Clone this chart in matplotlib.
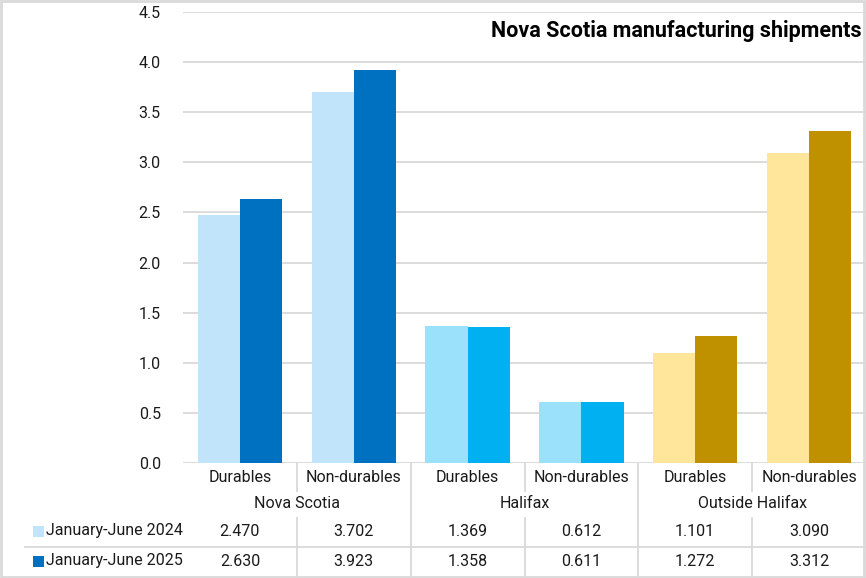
import numpy as np
import matplotlib
matplotlib.use("Agg")
import matplotlib.pyplot as plt
from matplotlib import transforms
from matplotlib.lines import Line2D
from matplotlib.patches import Rectangle

# donnees
categories = ["Durables", "Non-durables", "Durables", "Non-durables", "Durables", "Non-durables"]
groups = ["Nova Scotia", "Halifax", "Outside Halifax"]
series_names = ["January-June 2024", "January-June 2025"]
jan_jun_2024 = [2.470, 3.702, 1.369, 0.612, 1.101, 3.090]
jan_jun_2025 = [2.630, 3.923, 1.358, 0.611, 1.272, 3.312]
yticks = [0.0, 0.5, 1.0, 1.5, 2.0, 2.5, 3.0, 3.5, 4.0, 4.5]

light_cols = ["#C2E4FB", "#C2E4FB", "#9BE1FB", "#9BE1FB", "#FFE69B", "#FFE69B"]
dark_cols = ["#0070C0", "#0070C0", "#00B0F0", "#00B0F0", "#BF9000", "#BF9000"]
grid_col = "#D9D9D9"
txt_col = "#1A1A1A"

plt.rcParams['font.family'] = ['Roboto', 'DejaVu Sans']

W, H = 866, 578
fig = plt.figure(figsize=(W / 100, H / 100), dpi=100)
ax = fig.add_axes([183 / W, 1 - 463 / H, 1 - 183 / W, (463 - 12) / H])

x = np.arange(len(categories))
bw = 0.37
ax.bar(x - bw / 2, jan_jun_2024, bw, color=light_cols, zorder=3)
ax.bar(x + bw / 2, jan_jun_2025, bw, color=dark_cols, zorder=3)

ax.set_xlim(-0.5, len(categories) - 0.5)
ax.set_ylim(0, 4.5)
ax.set_yticks(yticks)
ax.set_yticklabels(["%.1f" % v for v in yticks], fontsize=11.5, color=txt_col)
ax.tick_params(axis="y", length=0, pad=16)
ax.set_xticks([])
ax.grid(axis="y", color=grid_col, linewidth=1.3, zorder=0)
for s in ax.spines.values():
    s.set_visible(False)

ax.text(0.994, 0.958, "Nova Scotia manufacturing shipments", transform=ax.transAxes,
        ha="right", va="center", fontsize=15.5, fontweight="bold", color="black")

# tableau sous le graphique
tr = transforms.blended_transform_factory(ax.transData, fig.transFigure)
def fy(p):
    return 1 - p / H

for i, c in enumerate(categories):
    ax.text(i, fy(478), c, transform=tr, ha="center", va="center", fontsize=11.5, color=txt_col)
for g, name in enumerate(groups):
    ax.text(2 * g + 0.5, fy(504), name, transform=tr, ha="center", va="center", fontsize=11.5, color=txt_col)

rows_y = [531, 561]
for vals, yy in zip([jan_jun_2024, jan_jun_2025], rows_y):
    for i, v in enumerate(vals):
        ax.text(i, fy(yy), "%.3f" % v, transform=tr, ha="center", va="center", fontsize=11.5, color=txt_col)

for k, (name, yy) in enumerate(zip(series_names, rows_y)):
    col = light_cols[0] if k == 0 else dark_cols[0]
    fig.patches.append(Rectangle((33 / W, fy(yy + 5.5)), 11 / W, 11 / H, transform=fig.transFigure,
                                 facecolor=col, edgecolor="none"))
    fig.text(46 / W, fy(yy), name, ha="left", va="center", fontsize=11.5, color=txt_col)

lines = []
for b in np.arange(0.5, len(categories) - 0.5, 1.0):
    if int(b + 0.5) % 2 == 0:
        lines.append(Line2D([b, b], [fy(463), fy(577)], transform=tr))
    else:
        lines.append(Line2D([b, b], [fy(463), fy(491)], transform=tr))
        lines.append(Line2D([b, b], [fy(518), fy(577)], transform=tr))
lines.append(Line2D([25 / W, 1], [fy(547), fy(547)], transform=fig.transFigure))
for ln in lines:
    ln.set_color(grid_col)
    ln.set_linewidth(1.3)
    fig.add_artist(ln)

# cadre
fig.patches.append(Rectangle((0.001, 0.001), 0.997, 0.997, transform=fig.transFigure,
                             facecolor="none", edgecolor=grid_col, linewidth=2))

fig.savefig("out.png", dpi=100)
